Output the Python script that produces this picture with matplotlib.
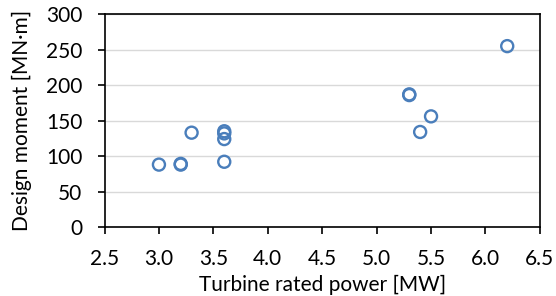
import matplotlib
matplotlib.use("Agg")
import matplotlib.pyplot as plt

power_mw = [3.0, 3.2, 3.2, 3.3, 3.6, 3.6, 3.6, 3.6, 5.3, 5.3, 5.4, 5.5, 6.2]
moment_mnm = [88, 88, 89, 133, 135, 132, 124, 92, 187, 186, 134, 156, 255]
x_ticks = [2.5, 3.0, 3.5, 4.0, 4.5, 5.0, 5.5, 6.0, 6.5]
y_ticks = [0, 50, 100, 150, 200, 250, 300]

plt.rcParams['font.family'] = ['Lato', 'DejaVu Sans']

fig = plt.figure(figsize=(5.56, 2.96), dpi=100)
ax = fig.add_axes([0.188, 0.233, 0.783, 0.719])

ax.scatter(power_mw, moment_mnm, s=75, facecolors='none', edgecolors='#4a7ebb',
           linewidths=1.7, zorder=3)

ax.set_xlim(2.5, 6.5)
ax.set_ylim(0, 300)
ax.set_xticks(x_ticks)
ax.set_xticklabels([f"{v:.1f}" for v in x_ticks])
ax.set_yticks(y_ticks)
ax.grid(axis='y', color='#d9d9d9', linewidth=1.0, zorder=0)
ax.set_axisbelow(True)
for sp in ax.spines.values():
    sp.set_color('black')
    sp.set_linewidth(1.2)
ax.tick_params(axis='both', direction='out', length=5, width=1.2, labelsize=15,
               colors='black')
ax.tick_params(axis='x', pad=11)
ax.tick_params(axis='y', pad=11)
ax.set_xlabel('Turbine rated power [MW]', fontsize=15, labelpad=4)
ax.set_ylabel('Design moment [MN·m]', fontsize=15, labelpad=10)

fig.savefig('out.png', dpi=100)
